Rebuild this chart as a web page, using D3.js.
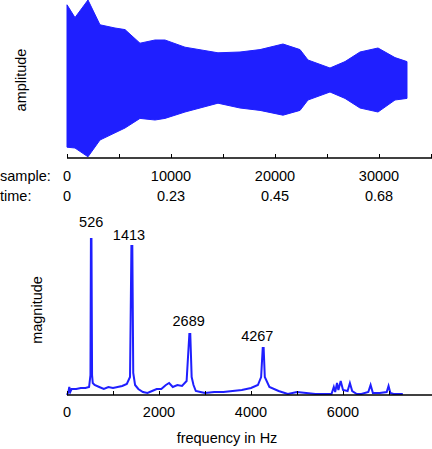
<!DOCTYPE html>
<html><head><meta charset="utf-8">
<script src="https://cdn.jsdelivr.net/npm/d3@7"></script>
<style>body{margin:0;background:#fff}text{font-family:"Liberation Sans",Arial,sans-serif;font-size:14.5px;fill:#000}</style>
</head><body><svg id="c" width="432" height="449"></svg>
<script>
// waveform envelope (sample index, upper amplitude, lower amplitude)
const envSamples=[0,769,2019,3173,4615,5577,7019,8462,9423,11346,14519,16635,18558,20769,22404,23173,25288,26731,28173,29904,31538,32692];
const envUpper=[0.94,0.78,1.0,0.69,0.65,0.63,0.46,0.5,0.5,0.41,0.34,0.35,0.38,0.45,0.38,0.25,0.15,0.23,0.35,0.4,0.28,0.23];
const envLower=[0.84,0.85,0.96,0.75,0.66,0.6,0.48,0.5,0.48,0.4,0.29,0.35,0.38,0.44,0.38,0.25,0.15,0.23,0.35,0.4,0.25,0.23];
const sampleTicks=[0,10000,20000,30000];
const timeLabels=["0","0.23","0.45","0.68"];
// spectrum
const specFreq=[0,30,50,70,100,200,300,400,480,510,520,532,545,560,600,700,800,900,1000,1100,1200,1300,1370,1400,1420,1440,1480,1550,1650,1750,1850,1950,2050,2150,2220,2300,2400,2500,2600,2660,2680,2710,2750,2800,2900,3000,3200,3400,3600,3800,4000,4150,4220,4255,4275,4300,4400,4600,4800,5000,5200,5400,5600,5750,5800,5830,5870,5900,5950,6000,6100,6150,6200,6300,6400,6550,6600,6650,6800,6950,6990,7030,7100,7300];
const specMag=[0,3,8,3,6,6,7,7,8,20,156,156,20,12,10,8,6,8,7,8,9,11,18,149,149,22,10,6,3,2,4,6,6,10,12,8,10,9,14,61,61,18,10,4,3,2,3,3,4,5,7,10,18,47,47,18,8,4,1,3,2,1,1,1,8,3,12,5,14,5,4,12,4,1,1,3,10,2,2,3,9,2,1,1];
const peaks=[{f:526,m:156,label:"526",dx:0,dy:-12},{f:1413,m:149,label:"1413",dx:-3,dy:-6},{f:2689,m:61,label:"2689",dx:-2,dy:-8},{f:4267,m:47,label:"4267",dx:-6,dy:-7}];
const freqTicks=[0,2000,4000,6000];

const svg=d3.select("#c"),blue="#1f1fff";
const xs=d3.scaleLinear().domain([0,35000]).range([67,431]);
const ya=d3.scaleLinear().domain([-1,1]).range([160,0]);
const envData=envSamples.map((s,i)=>({s,u:envUpper[i],l:envLower[i]}));
svg.append("path").datum(envData).attr("fill",blue).attr("stroke",blue).attr("stroke-width",1)
 .attr("d",d3.area().x(d=>xs(d.s)).y0(d=>ya(-d.l)).y1(d=>ya(d.u)));
const ax1=svg.append("g").attr("transform","translate(0,158)")
 .call(d3.axisBottom(xs).tickValues(d3.range(0,35001,5000)).tickSize(-4).tickFormat(""));
ax1.select(".domain").attr("d","M67,0H432").attr("stroke","#000").attr("stroke-width",1.5);
ax1.selectAll(".tick line").attr("stroke","#000");
sampleTicks.forEach((t,i)=>{
 svg.append("text").attr("x",xs(t)).attr("y",181).attr("text-anchor",i?"middle":"start").attr("dx",i?0:-4).text(t);
 svg.append("text").attr("x",xs(t)).attr("y",201).attr("text-anchor",i?"middle":"start").attr("dx",i?0:-4).text(timeLabels[i]);
});
svg.append("text").attr("x",0).attr("y",181).text("sample:");
svg.append("text").attr("x",0).attr("y",201).text("time:");
svg.append("text").attr("transform","translate(26,80) rotate(-90)").attr("text-anchor","middle").text("amplitude");
const xf=d3.scaleLinear().domain([0,8000]).range([67,435]);
const ym=d3.scaleLinear().domain([0,160]).range([395,235]);
svg.append("path").datum(specFreq.map((f,i)=>[f,specMag[i]])).attr("fill","none").attr("stroke",blue).attr("stroke-width",2)
 .attr("d",d3.line().x(d=>xf(d[0])).y(d=>ym(d[1])));
const ax2=svg.append("g").attr("transform","translate(0,395)")
 .call(d3.axisBottom(xf).tickValues(d3.range(0,8000,1000)).tickSize(-4).tickFormat(""));
ax2.select(".domain").attr("d","M67,0H432").attr("stroke","#000").attr("stroke-width",1.5);
ax2.selectAll(".tick line").attr("stroke","#000");
freqTicks.forEach(t=>svg.append("text").attr("x",xf(t)).attr("y",417).attr("text-anchor","middle").text(t));
svg.append("text").attr("x",227).attr("y",443).attr("text-anchor","middle").text("frequency in Hz");
svg.append("text").attr("transform","translate(42,310) rotate(-90)").attr("text-anchor","middle").text("magnitude");
peaks.forEach(p=>svg.append("text").attr("x",xf(p.f)+p.dx).attr("y",ym(p.m)+p.dy).attr("text-anchor","middle").text(p.label));
</script></body></html>
